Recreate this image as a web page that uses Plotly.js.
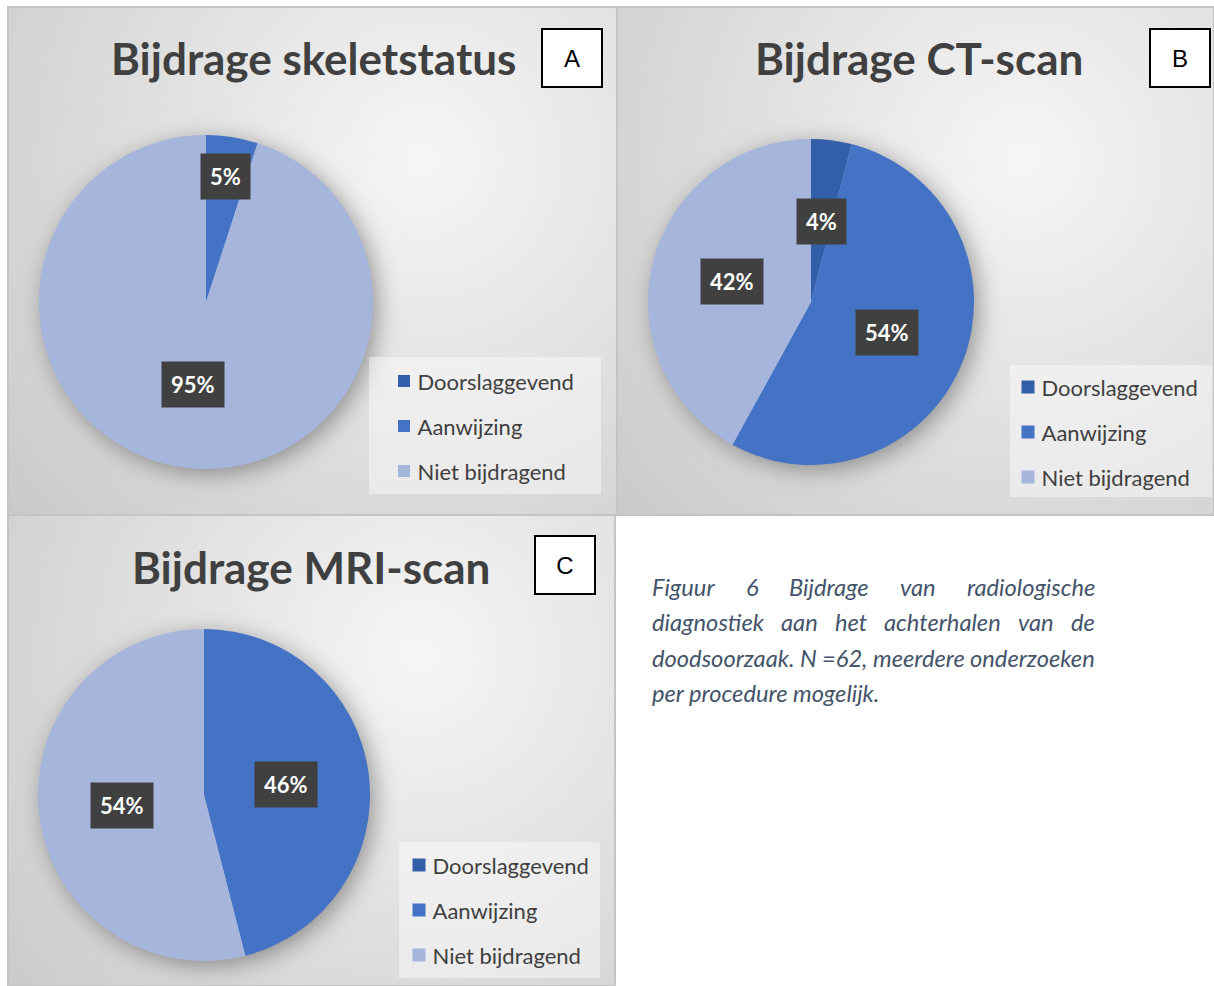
<!DOCTYPE html>
<html><head><meta charset="utf-8">
<script src="https://cdn.plot.ly/plotly-3.0.1.min.js"></script>
<style>html,body{margin:0;padding:0;background:#fff;overflow:hidden}#chart{width:1214px;height:986px}</style>
</head><body><div id="chart"></div>
<script>
// ---------- DATA ----------
const categories = ['Doorslaggevend', 'Aanwijzing', 'Niet bijdragend'];
const skeletValues = [0, 5, 95];   // %
const ctValues = [4, 54, 42];      // %
const mriValues = [0, 46, 54];     // %
const chartTitles = ['Bijdrage skeletstatus', 'Bijdrage CT-scan', 'Bijdrage MRI-scan'];
const panelLetters = ['A', 'B', 'C'];
const captionLines = [
  'Figuur 6 Bijdrage van radiologische',
  'diagnostiek aan het achterhalen van de',
  'doodsoorzaak. N =62, meerdere onderzoeken',
  'per procedure mogelijk.'
];

// ---------- STYLE / LAYOUT ----------
const W = 1214, H = 986;
const FONT = 'Lato, "Open Sans", sans-serif';
const sliceColors = ['#335EA8', '#4472C4', '#A6B5DB'];
const panels = [
  {x0: 8, y0: 7, x1: 617, y1: 515, cx: 206, cy: 302, r: 167, tx: 313, ty: 58, lx: 572, ly: 58, smallR: 0.76,
   lg: {x0: 369, y0: 357, x1: 601, y1: 494, sym: 404, first: 24}},
  {x0: 617, y0: 7, x1: 1214, y1: 515, cx: 811, cy: 302, r: 163, tx: 919, ty: 58, lx: 1180, ly: 58, smallR: 0.5,
   lg: {x0: 1010, y0: 365, x1: 1212, y1: 497, sym: 1028, first: 22}},
  {x0: 8, y0: 515, x1: 615, y1: 986, cx: 204, cy: 795, r: 166, tx: 311, ty: 567, lx: 565, ly: 565, smallR: 0.5,
   lg: {x0: 399, y0: 842, x1: 600, y1: 978, sym: 419, first: 23}}
];
const caption = {x0: 650, x1: 1093, y: [587, 622, 658, 693], color: '#44546A'};
const legendIds = ['legend', 'legend2', 'legend3'];
const seriesValues = [skeletValues, ctValues, mriValues];

const px = x => x / W;
const py = y => 1 - y / H;

// ---------- BACKGROUND (gradient panels + pie shadows) ----------
function makeBackground() {
  const c = document.createElement('canvas');
  c.width = W; c.height = H;
  const ctx = c.getContext('2d');
  ctx.fillStyle = '#ffffff';
  ctx.fillRect(0, 0, W, H);
  panels.forEach(p => {
    const w = p.x1 - p.x0, h = p.y1 - p.y0;
    const gx = p.x0 + 0.68 * w, gy = p.y0 + 0.3 * h;
    const g = ctx.createRadialGradient(gx, gy, 0, gx, gy, 570);
    g.addColorStop(0, '#F6F6F6');
    g.addColorStop(0.45, '#E1E1E1');
    g.addColorStop(0.8, '#D1D1D1');
    g.addColorStop(1, '#C7C7C7');
    ctx.save();
    ctx.beginPath(); ctx.rect(p.x0, p.y0, w, h); ctx.clip();
    ctx.fillStyle = g;
    ctx.fillRect(p.x0, p.y0, w, h);
    ctx.shadowColor = 'rgba(0,0,0,0.38)';
    ctx.shadowBlur = 24;
    ctx.shadowOffsetX = 5;
    ctx.shadowOffsetY = 5;
    ctx.fillStyle = '#A6B5DB';
    ctx.beginPath(); ctx.arc(p.cx, p.cy, p.r - 1, 0, Math.PI * 2); ctx.fill();
    ctx.restore();
  });
  return c.toDataURL('image/png');
}

// ---------- TRACES ----------
const data = seriesValues.map((vals, i) => {
  const p = panels[i];
  return {
    type: 'pie', labels: categories, values: vals, sort: false,
    direction: 'clockwise', rotation: 0,
    marker: {colors: sliceColors, line: {width: 0}},
    textinfo: 'none', hoverinfo: 'label+percent',
    domain: {x: [px(p.cx - p.r), px(p.cx + p.r)], y: [py(p.cy + p.r), py(p.cy - p.r)]},
    legend: 'legend', showlegend: i === 0
  };
});
// pie slices only list in the first legend; the other two panels get
// legend entries for the same categories through marker-only proxies
[1, 2].forEach(i => {
  categories.forEach((cat, k) => {
    data.push({type: 'scatter', mode: 'markers', x: [null], y: [null], name: cat,
      marker: {symbol: 'square', size: 13, color: sliceColors[k], line: {width: 0}},
      legend: legendIds[i], showlegend: true, hoverinfo: 'skip'});
  });
});

// ---------- ANNOTATIONS ----------
const annotations = [];
const shapes = [];
panels.forEach((p, i) => {
  annotations.push({xref: 'paper', yref: 'paper', x: px(p.tx), y: py(p.ty), xanchor: 'center', yanchor: 'middle',
    text: '<b>' + chartTitles[i] + '</b>', showarrow: false, font: {family: FONT, size: 44, color: '#404040'}});
  annotations.push({xref: 'paper', yref: 'paper', x: px(p.lx), y: py(p.ly), xanchor: 'center', yanchor: 'middle',
    text: panelLetters[i], showarrow: false, width: 58, height: 56, borderpad: 0, borderwidth: 2,
    bordercolor: '#000', bgcolor: '#fff', font: {family: '"Liberation Sans", Arial, sans-serif', size: 24, color: '#000'}});
  const vals = seriesValues[i];
  const total = vals.reduce((a, b) => a + b, 0);
  let cum = 0;
  vals.forEach(v => {
    const frac = v / total;
    if (v > 0) {
      const mid = (cum + frac / 2) * 2 * Math.PI;
      const rf = frac < 0.06 ? p.smallR : 0.5;
      const x = p.cx + rf * p.r * Math.sin(mid);
      const y = p.cy - rf * p.r * Math.cos(mid);
      annotations.push({xref: 'paper', yref: 'paper', x: px(x), y: py(y), xanchor: 'center', yanchor: 'middle',
        text: '<b>' + Math.round(frac * 100) + '%</b>', showarrow: false, bgcolor: '#404040', borderpad: 9,
        font: {family: FONT, size: 22, color: '#ffffff'}});
    }
    cum += frac;
  });
  shapes.push({type: 'rect', xref: 'paper', yref: 'paper', x0: px(p.x0), x1: px(p.x1), y0: py(p.y1), y1: py(p.y0),
    line: {color: '#C4C4C4', width: 2}, fillcolor: 'rgba(0,0,0,0)', layer: 'below'});
  shapes.push({type: 'rect', xref: 'paper', yref: 'paper', x0: px(p.lg.x0), x1: px(p.lg.x1), y0: py(p.lg.y1), y1: py(p.lg.y0),
    line: {width: 0}, fillcolor: 'rgba(255,255,255,0.42)', layer: 'below'});
});

// caption (justified lines)
(function () {
  const c = document.createElement('canvas').getContext('2d');
  const fam = 'Lato';
  c.font = 'italic 20px ' + fam;
  const natural = c.measureText(captionLines[2]).width;
  const size = Math.round(20 * (caption.x1 - caption.x0) / natural * 10) / 10;
  c.font = 'italic ' + size + 'px ' + fam;
  captionLines.forEach((line, li) => {
    const yy = py(caption.y[li]);
    if (li === captionLines.length - 1) {
      annotations.push({xref: 'paper', yref: 'paper', x: px(caption.x0), y: yy, xanchor: 'left', yanchor: 'middle',
        text: '<i>' + line + '</i>', showarrow: false, font: {family: FONT, size: size, color: caption.color}});
      return;
    }
    const words = line.split(' ');
    const widths = words.map(w => c.measureText(w).width);
    const sum = widths.reduce((a, b) => a + b, 0);
    const gap = (caption.x1 - caption.x0 - sum) / (words.length - 1);
    let x = caption.x0;
    words.forEach((w, wi) => {
      annotations.push({xref: 'paper', yref: 'paper', x: px(x), y: yy, xanchor: 'left', yanchor: 'middle',
        text: '<i>' + w + '</i>', showarrow: false, font: {family: FONT, size: size, color: caption.color}});
      x += widths[wi] + gap;
    });
  });
})();

// ---------- LAYOUT ----------
const layout = {
  width: W, height: H, margin: {l: 0, r: 0, t: 0, b: 0},
  paper_bgcolor: 'rgba(0,0,0,0)', plot_bgcolor: 'rgba(0,0,0,0)',
  showlegend: true,
  xaxis: {visible: false, range: [0, 1], fixedrange: true},
  yaxis: {visible: false, range: [0, 1], fixedrange: true},
  images: [{source: makeBackground(), xref: 'paper', yref: 'paper', x: 0, y: 1, sizex: 1, sizey: 1,
    xanchor: 'left', yanchor: 'top', sizing: 'stretch', layer: 'below'}],
  annotations: annotations, shapes: shapes
};
panels.forEach((p, i) => {
  layout[legendIds[i]] = {x: px(p.lg.x0), xanchor: 'left', y: py(p.lg.y0), yanchor: 'top', visible: true,
    bgcolor: 'rgba(0,0,0,0)', borderwidth: 0, traceorder: 'normal',
    font: {family: FONT, size: 22, color: '#404040'}};
});

function parseT(el) {
  const t = el.getAttribute('transform') || '';
  const m = t.match(/translate\(([-\d.e]+)[ ,]*([-\d.e]*)\)/);
  return m ? [parseFloat(m[1]) || 0, parseFloat(m[2]) || 0] : [0, 0];
}

const gd = document.getElementById('chart');
Plotly.newPlot(gd, data, layout, {staticPlot: true, displayModeBar: false}).then(() => {
  // spread legend entries like the original (45 px apart, tight symbol/text gap)
  legendIds.forEach((id, i) => {
    const p = panels[i];
    const lg = gd.querySelector('g.' + id);
    if (!lg) return;
    const sb = lg.querySelector('g.scrollbox');
    if (sb) sb.removeAttribute('clip-path');
    lg.removeAttribute('clip-path');
    const items = lg.querySelectorAll('g.traces');
    items.forEach((it, k) => {
      let [tx, ty] = parseT(it);
      const sym = it.querySelector('path.legendpie') || it.querySelector('path.scatterpts');
      if (!sym) return;
      const b = sym.getBoundingClientRect();
      tx += p.lg.sym - (b.left + b.width / 2);
      ty += (p.lg.y0 + p.lg.first + 45 * k) - (b.top + b.height / 2);
      it.setAttribute('transform', 'translate(' + tx + ',' + ty + ')');
      const txt = it.querySelector('text.legendtext') || it.querySelector('text');
      if (txt) {
        const want = p.lg.sym + 6.5 + 7;
        for (let pass = 0; pass < 3; pass++) {
          const tb = txt.getBoundingClientRect();
          const d = want - tb.left;
          if (Math.abs(d) < 0.5) break;
          const [ax, ay] = parseT(txt);
          txt.setAttribute('transform', 'translate(' + (ax + d) + ',' + ay + ')');
        }
      }
    });
  });
});
</script>
</body></html>
